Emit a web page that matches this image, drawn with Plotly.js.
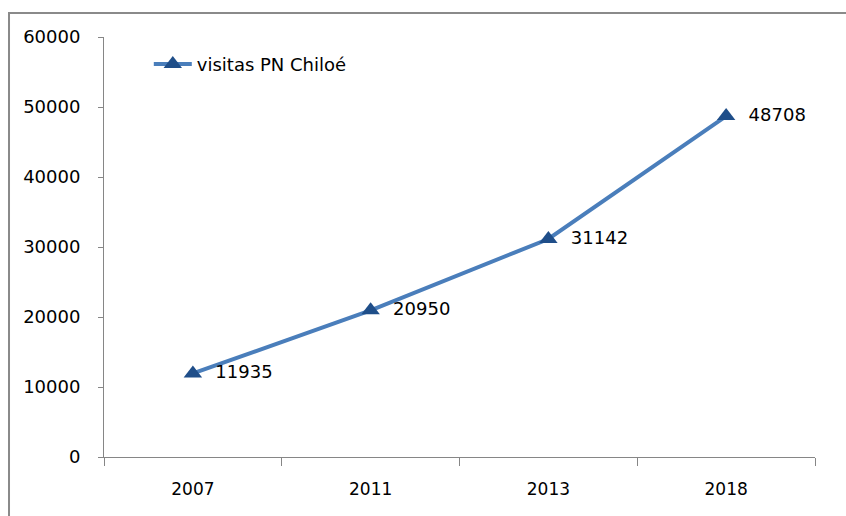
<!DOCTYPE html>
<html>
<head>
<meta charset="utf-8">
<script src="https://cdn.plot.ly/plotly-3.0.1.min.js"></script>
<style>
html,body{margin:0;padding:0;background:#fff;}
#chart{width:846px;height:516px;}
</style>
</head>
<body>
<div id="chart"></div>
<script>
const years = ["2007", "2011", "2013", "2018"];
const visitas = [11935, 20950, 31142, 48708];
const seriesName = "visitas PN Chiloé";
const yTicks = [0, 10000, 20000, 30000, 40000, 50000, 60000];

const font = "DejaVu Sans, Verdana, sans-serif";

const trace = {
  type: "scatter",
  mode: "lines+markers+text",
  x: years,
  y: visitas,
  name: seriesName,
  text: visitas.map(v => "  " + v),
  textposition: "middle right",
  textfont: {family: font, size: 18, color: "#000"},
  line: {color: "#4A7EBB", width: 4},
  marker: {symbol: "triangle-up", size: 16, color: "#1F4E89", line: {width: 0}},
  cliponaxis: false
};

const layout = {
  width: 846,
  height: 516,
  margin: {l: 104, r: 31, t: 37, b: 59},
  paper_bgcolor: "#fff",
  plot_bgcolor: "#fff",
  font: {family: font, size: 17, color: "#000"},
  showlegend: true,
  legend: {
    x: 0.063, y: 0.935, xanchor: "left", yanchor: "middle",
    itemwidth: 38,
    bgcolor: "rgba(0,0,0,0)",
    font: {family: font, size: 18, color: "#000"}
  },
  xaxis: {
    type: "category",
    range: [-0.5, 3.5],
    showgrid: false,
    zeroline: false,
    showline: true,
    linecolor: "#868686",
    linewidth: 1,
    ticks: "outside",
    tickson: "boundaries",
    ticklen: 8,
    tickcolor: "#868686",
    ticklabelstandoff: 17,
    tickfont: {family: font, size: 17, color: "#000"}
  },
  yaxis: {
    range: [0, 60000],
    tickvals: yTicks,
    ticktext: yTicks.map(String),
    showgrid: false,
    zeroline: false,
    showline: true,
    linecolor: "#868686",
    linewidth: 1,
    ticks: "outside",
    ticklen: 5,
    tickcolor: "#868686",
    ticklabelstandoff: 14,
    tickfont: {family: font, size: 18, color: "#000"}
  },
  shapes: [{
    type: "rect", xref: "paper", yref: "paper",
    x0: -0.1336, x1: 1.08, y0: -0.2, y1: 1.057,
    line: {color: "#8a8a8a", width: 2},
    fillcolor: "rgba(0,0,0,0)",
    layer: "below"
  }]
};

Plotly.newPlot("chart", [trace], layout, {displayModeBar: false, staticPlot: true});
</script>
</body>
</html>
